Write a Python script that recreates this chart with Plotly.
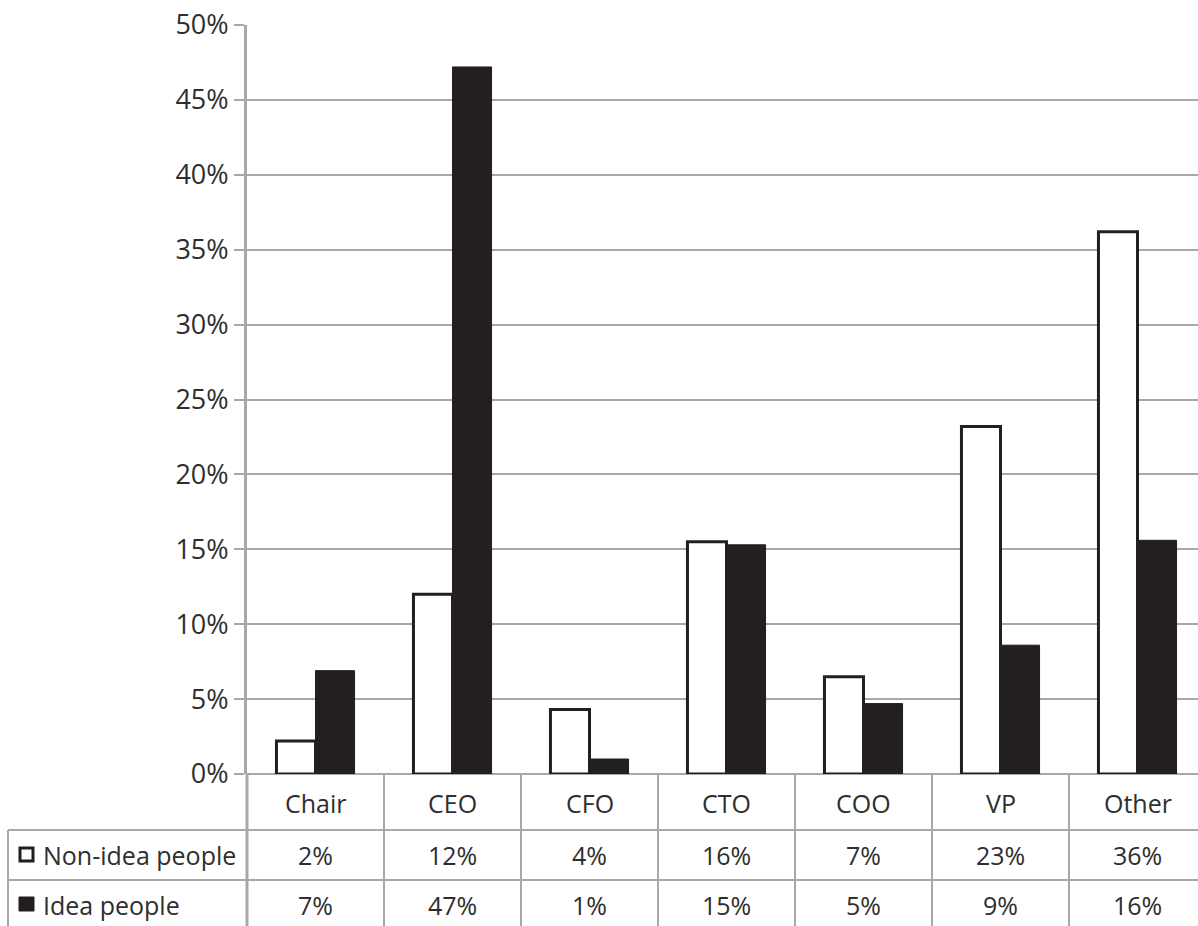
import math
import plotly.graph_objects as go

# Roles and the share of each group holding them (percent)
roles = ["Chair", "CEO", "CFO", "CTO", "COO", "VP", "Other"]
non_idea_people = [2.2, 12.0, 4.3, 15.5, 6.5, 23.2, 36.2]
idea_people = [6.9, 47.2, 1.0, 15.3, 4.7, 8.6, 15.6]
series_names = ["Non-idea people", "Idea people"]
y_ticks = list(range(0, 55, 5))
y_tick_labels = [f"{v}%" for v in y_ticks]

W, H = 1198, 926
ML, MT, MB = 247, 25, 152
PLOT_W = W - ML
PLOT_H = H - MT - MB
CAT_W = 137.0  # pixel width of one category slot
x_range = [-0.5, -0.5 + PLOT_W / CAT_W]

GRID = "#a8a8a8"
INK = "#231f20"
TEXT = "#2e2e2e"
FONT = "Open Sans"


def px(xp):
    return (xp - ML) / PLOT_W


def py(yp):
    return (H - MB - yp) / PLOT_H


def cat_paper(i):
    return (i - x_range[0]) / (x_range[1] - x_range[0])


def pct(v):
    return f"{int(math.floor(v + 0.5))}%"


fig = go.Figure()
fig.add_bar(
    x=list(range(len(roles))), y=non_idea_people, name=series_names[0],
    marker=dict(color="white", line=dict(color=INK, width=3)),
)
fig.add_bar(
    x=list(range(len(roles))), y=idea_people, name=series_names[1],
    marker=dict(color=INK, line=dict(color=INK, width=1)),
)

shapes = []
line_style = dict(color=GRID, width=2)
# table grid: horizontal rules
for yp in (830, 880):
    shapes.append(dict(type="line", xref="paper", yref="paper",
                       x0=px(8), x1=1.02, y0=py(yp), y1=py(yp), line=line_style))
# outer left border of the row-label column
shapes.append(dict(type="line", xref="paper", yref="paper",
                   x0=px(8), x1=px(8), y0=py(830), y1=py(H + 5), line=line_style))
# axis continued down through the table
shapes.append(dict(type="line", xref="paper", yref="paper",
                   x0=0, x1=0, y0=0, y1=py(H + 5), line=dict(color=GRID, width=3)))
# column dividers between categories
for i in range(len(roles) - 1):
    xc = cat_paper(i + 0.5)
    shapes.append(dict(type="line", xref="paper", yref="paper",
                       x0=xc, x1=xc, y0=0, y1=py(H + 5), line=line_style))
# legend keys in the row labels
shapes.append(dict(type="rect", xref="paper", yref="paper",
                   x0=px(20), x1=px(33), y0=py(848), y1=py(861),
                   line=dict(color=INK, width=3), fillcolor="white"))
shapes.append(dict(type="rect", xref="paper", yref="paper",
                   x0=px(19), x1=px(34), y0=py(897), y1=py(911),
                   line=dict(color=INK, width=1), fillcolor=INK))

annotations = []
row_y = [py(803), py(855), py(905)]
for i, role in enumerate(roles):
    xc = cat_paper(i)
    annotations.append(dict(x=xc, y=row_y[0], text=role))
    annotations.append(dict(x=xc, y=row_y[1], text=pct(non_idea_people[i])))
    annotations.append(dict(x=xc, y=row_y[2], text=pct(idea_people[i])))
for a in annotations:
    a.update(xref="paper", yref="paper", showarrow=False, xanchor="center",
             yanchor="middle", font=dict(family=FONT, size=25, color=TEXT))
for name, yy in zip(series_names, row_y[1:]):
    annotations.append(dict(x=px(41), y=yy, text=name, xref="paper", yref="paper",
                            showarrow=False, xanchor="left", yanchor="middle",
                            font=dict(family=FONT, size=25, color=TEXT)))

fig.update_layout(
    width=W, height=H,
    margin=dict(l=ML, r=0, t=MT, b=MB, pad=0),
    paper_bgcolor="white", plot_bgcolor="white",
    barmode="group", bargap=0.43, bargroupgap=0,
    showlegend=False,
    shapes=shapes, annotations=annotations,
    xaxis=dict(range=x_range, showticklabels=False, showgrid=False,
               zeroline=False, ticks="", showline=False, fixedrange=True),
    yaxis=dict(range=[0, 50], tickmode="array", tickvals=y_ticks,
               ticktext=y_tick_labels,
               showgrid=True, gridcolor=GRID, gridwidth=2,
               zeroline=True, zerolinecolor=GRID, zerolinewidth=2,
               showline=True, linecolor=GRID, linewidth=3,
               ticks="outside", ticklen=10, tickcolor=GRID, tickwidth=2,
               tickfont=dict(family=FONT, size=27, color=TEXT),
               fixedrange=True),
)

fig.write_html("out.html")
